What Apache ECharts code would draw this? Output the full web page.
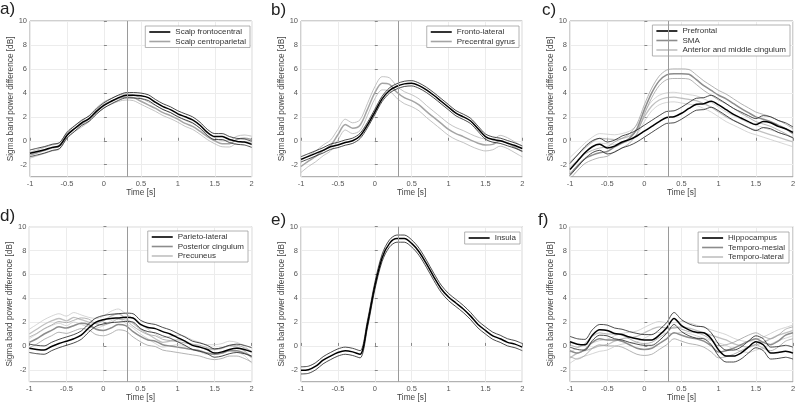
<!DOCTYPE html>
<html><head><meta charset="utf-8">
<script src="https://cdn.jsdelivr.net/npm/echarts@6/dist/echarts.min.js"></script>
<style>html,body{margin:0;padding:0;background:#fff}#chart{width:796px;height:404px}</style>
</head><body><div id="chart"></div>
<script>
// ---------- data ----------
const time = [-1.0,-0.9,-0.8,-0.7,-0.6,-0.5,-0.4,-0.3,-0.2,-0.1,0.0,0.1,0.2,0.3,0.4,0.5,0.6,0.7,0.8,0.9,1.0,1.1,1.2,1.3,1.4,1.5,1.6,1.7,1.8,1.9,2.0];
const xTicks = [-1,-0.5,0,0.5,1,1.5,2];
const yTicks = [-2,0,2,4,6,8,10];
const markerTime = 0.32;
const panelLabels = ['a)','b)','c)','d)','e)','f)'];
const yTitle = 'Sigma band power difference [dB]';
const xTitle = 'Time [s]';

// a)
const aNames = ['Scalp frontocentral','Scalp centroparietal'];
const aFrontoMean = [-1.05,-0.9,-0.75,-0.55,-0.4,0.45,1.0,1.5,1.85,2.45,2.95,3.3,3.6,3.8,3.8,3.75,3.6,3.2,2.85,2.6,2.25,2.0,1.75,1.3,0.7,0.35,0.35,0.1,-0.05,-0.1,-0.3];
const aFrontoSem  = [0.28,0.28,0.27,0.26,0.25,0.24,0.23,0.22,0.22,0.22,0.22,0.22,0.22,0.22,0.23,0.23,0.24,0.24,0.24,0.24,0.25,0.25,0.25,0.25,0.25,0.25,0.25,0.25,0.25,0.25,0.25];
const aCentroMean = [-1.2,-1.0,-0.8,-0.6,-0.45,0.5,1.0,1.4,1.85,2.5,3.0,3.3,3.55,3.65,3.6,3.3,3.0,2.7,2.35,2.1,1.8,1.45,1.2,0.8,0.35,0.0,-0.25,-0.25,0.1,0.2,0.1];
const aCentroSem  = [0.25,0.25,0.25,0.25,0.25,0.25,0.25,0.25,0.25,0.25,0.25,0.25,0.25,0.25,0.25,0.25,0.25,0.25,0.25,0.25,0.25,0.25,0.25,0.25,0.25,0.25,0.25,0.27,0.28,0.28,0.28];

// b)
const bNames = ['Fronto-lateral','Precentral gyrus'];
const bFrontoMean = [-1.55,-1.3,-1.05,-0.8,-0.5,-0.35,-0.15,0.0,0.4,1.3,2.4,3.5,4.2,4.55,4.75,4.8,4.6,4.25,3.8,3.3,2.8,2.3,2.0,1.65,1.0,0.35,0.1,0.0,-0.2,-0.4,-0.65];
const bFrontoSem  = [0.22,0.22,0.22,0.22,0.22,0.22,0.22,0.22,0.22,0.22,0.22,0.22,0.22,0.22,0.22,0.22,0.22,0.22,0.22,0.22,0.22,0.22,0.22,0.22,0.22,0.22,0.22,0.22,0.22,0.22,0.22];
const bPrecMean   = [-2.15,-1.7,-1.3,-0.8,-0.4,0.5,1.35,1.05,1.3,2.6,4.0,4.8,4.7,4.05,3.6,3.35,3.0,2.45,1.95,1.45,0.95,0.6,0.35,0.05,-0.2,-0.35,-0.3,0.0,-0.2,-0.55,-0.9];
const bPrecSem    = [0.5,0.45,0.45,0.45,0.45,0.45,0.45,0.45,0.45,0.5,0.5,0.55,0.55,0.5,0.5,0.5,0.5,0.5,0.5,0.5,0.5,0.5,0.5,0.5,0.5,0.5,0.45,0.45,0.45,0.45,0.45];

// c)
const cNames = ['Prefrontal','SMA','Anterior and middle cingulum'];
const cPrefMean = [-2.4,-1.7,-1.0,-0.5,-0.3,-0.6,-0.45,-0.1,0.1,0.4,0.8,1.2,1.6,1.95,2.0,2.3,2.7,3.05,3.1,3.3,3.0,2.6,2.2,1.9,1.6,1.35,1.6,1.5,1.2,1.0,0.7];
const cPrefSem  = [0.5,0.5,0.5,0.5,0.5,0.5,0.5,0.5,0.5,0.5,0.5,0.5,0.5,0.5,0.5,0.5,0.5,0.5,0.5,0.5,0.5,0.5,0.5,0.5,0.5,0.5,0.5,0.5,0.5,0.5,0.45];
const cSmaMean  = [-2.8,-2.1,-1.5,-1.2,-1.0,-0.9,-0.5,-0.2,0.2,1.0,2.6,4.0,5.0,5.5,5.6,5.6,5.55,5.1,4.6,4.2,3.8,3.5,3.1,2.7,2.35,2.0,1.8,1.6,1.3,1.0,0.6];
const cSmaSem   = [0.4,0.4,0.4,0.4,0.4,0.4,0.4,0.4,0.4,0.4,0.4,0.4,0.4,0.4,0.4,0.4,0.4,0.4,0.4,0.4,0.4,0.4,0.4,0.4,0.4,0.4,0.4,0.4,0.4,0.4,0.4];
const cCingMean = [-1.8,-1.2,-0.6,-0.1,0.2,0.15,0.1,0.2,0.4,0.9,2.0,2.9,3.4,3.6,3.65,3.55,3.45,3.35,3.1,2.8,2.4,2.0,1.7,1.4,1.1,0.9,0.7,0.5,0.3,0.1,-0.1];
const cCingSem  = [0.4,0.4,0.4,0.4,0.4,0.4,0.4,0.4,0.4,0.4,0.4,0.4,0.4,0.4,0.4,0.4,0.4,0.4,0.4,0.4,0.4,0.4,0.4,0.4,0.4,0.4,0.4,0.4,0.4,0.4,0.4];

// d)
const dNames = ['Parieto-lateral','Posterior cingulum','Precuneus'];
const dParMean  = [-0.2,-0.3,-0.35,-0.05,0.2,0.4,0.6,0.9,1.5,2.0,2.2,2.3,2.35,2.4,2.35,1.8,1.55,1.45,1.2,1.0,0.7,0.4,0.05,-0.1,-0.3,-0.6,-0.5,-0.3,-0.2,-0.3,-0.5];
const dParSem   = [0.35,0.35,0.35,0.35,0.35,0.35,0.35,0.35,0.35,0.35,0.35,0.35,0.35,0.35,0.35,0.35,0.35,0.35,0.35,0.35,0.35,0.35,0.35,0.35,0.35,0.35,0.35,0.35,0.35,0.35,0.35];
const dPostMean = [0.3,0.6,1.0,1.3,1.6,1.5,1.7,1.9,1.8,1.4,1.3,1.5,1.8,1.7,1.2,0.8,0.5,0.4,0.1,0.0,-0.1,-0.2,-0.3,-0.4,-0.6,-0.7,-0.6,-0.4,-0.4,-0.6,-0.9];
const dPostSem  = [0.45,0.45,0.45,0.45,0.45,0.45,0.45,0.45,0.45,0.45,0.45,0.45,0.45,0.45,0.45,0.45,0.45,0.45,0.45,0.45,0.45,0.45,0.45,0.45,0.45,0.45,0.45,0.45,0.45,0.45,0.45];
const dPrecMean = [1.0,1.4,1.8,2.1,2.3,2.1,2.4,2.2,2.0,1.9,2.1,2.5,2.7,2.3,1.9,1.4,1.0,0.6,0.3,0.4,0.5,0.4,0.1,-0.1,-0.3,-0.3,-0.2,0.0,-0.1,-0.4,-1.0];
const dPrecSem  = [0.4,0.4,0.4,0.4,0.4,0.4,0.4,0.4,0.4,0.4,0.4,0.4,0.4,0.4,0.4,0.4,0.4,0.4,0.4,0.4,0.4,0.4,0.4,0.4,0.4,0.4,0.4,0.4,0.4,0.4,0.45];

// e)
const eNames = ['Insula'];
const eInsMean = [-2.05,-2.0,-1.7,-1.2,-0.85,-0.55,-0.4,-0.5,-0.7,1.8,5.0,7.4,8.6,9.0,9.0,8.6,7.9,6.9,5.8,4.8,4.1,3.6,3.1,2.5,1.8,1.3,0.85,0.6,0.3,0.15,-0.1];
const eInsSem  = [0.3,0.3,0.3,0.3,0.3,0.3,0.3,0.3,0.3,0.3,0.3,0.3,0.3,0.3,0.3,0.3,0.3,0.3,0.3,0.3,0.3,0.3,0.3,0.3,0.3,0.3,0.3,0.3,0.3,0.3,0.3];

// f)
const fNames = ['Hippocampus','Temporo-mesial','Temporo-lateral'];
const fHipMean = [0.35,0.15,0.1,0.9,1.35,1.3,1.05,0.95,0.75,0.6,0.5,0.5,0.9,1.5,2.3,1.7,1.35,1.15,1.1,0.6,-0.35,-0.85,-0.85,-0.6,-0.1,0.35,0.1,-0.6,-0.55,-0.45,-0.6];
const fHipSem  = [0.45,0.45,0.45,0.45,0.45,0.45,0.45,0.45,0.45,0.45,0.45,0.45,0.45,0.45,0.5,0.5,0.5,0.5,0.5,0.5,0.5,0.5,0.5,0.5,0.5,0.5,0.5,0.5,0.5,0.5,0.5];
const fMesMean = [-0.4,-0.6,-0.3,0.3,0.6,0.5,0.5,0.4,0.1,-0.2,-0.3,-0.2,0.2,0.6,1.1,0.9,0.7,0.6,0.4,0.0,-0.5,-0.4,-0.2,0.1,0.4,0.6,0.3,0.1,0.4,0.9,1.1];
const fMesSem  = [0.5,0.5,0.5,0.5,0.5,0.5,0.5,0.5,0.5,0.5,0.5,0.5,0.5,0.5,0.5,0.5,0.5,0.5,0.5,0.5,0.5,0.5,0.5,0.5,0.5,0.5,0.5,0.5,0.5,0.5,0.5];
const fLatMean = [-1.0,-0.6,-0.4,-0.2,0.0,0.1,0.4,0.6,0.7,0.8,1.1,1.4,1.6,1.5,1.5,1.6,1.5,1.3,1.1,0.9,0.7,0.5,0.2,0.0,-0.1,0.1,0.3,0.6,0.9,1.1,1.3];
const fLatSem  = [0.45,0.45,0.45,0.45,0.45,0.45,0.45,0.45,0.45,0.45,0.45,0.45,0.45,0.45,0.45,0.45,0.45,0.45,0.45,0.45,0.45,0.45,0.45,0.45,0.45,0.45,0.45,0.45,0.45,0.45,0.45];

// ---------- styling / layout ----------
const FONT = 'Liberation Sans, Arial, Helvetica, sans-serif';
const tones = {
  black:  {mean:'#000000', bound:'#1e1e1e', mw:1.5, bw:0.8},
  second: {mean:'#a4a4a4', bound:'#b4b4b4', mw:1.5, bw:0.8},
  mid:    {mean:'#8c8c8c', bound:'#a0a0a0', mw:1.5, bw:0.8},
  light:  {mean:'#c0c0c0', bound:'#cacaca', mw:1.3, bw:0.8}
};
const panels = [
  {grid:{left:30,top:21,width:221.7,height:155.7}, title:{left:0,top:1}, legend:{right:546,top:26}, nameGap:11.5,
   lines:[{name:aNames[0],mean:aFrontoMean,sem:aFrontoSem,tone:'black'},{name:aNames[1],mean:aCentroMean,sem:aCentroSem,tone:'second'}]},
  {grid:{left:301,top:21,width:221.3,height:155.7}, title:{left:271,top:2}, legend:{right:277,top:26}, nameGap:14,
   lines:[{name:bNames[0],mean:bFrontoMean,sem:bFrontoSem,tone:'black'},{name:bNames[1],mean:bPrecMean,sem:bPrecSem,tone:'second'}]},
  {grid:{left:570,top:21,width:223,height:155.7}, title:{left:542,top:2}, legend:{right:6,top:25}, nameGap:13.5,
   lines:[{name:cNames[0],mean:cPrefMean,sem:cPrefSem,tone:'black'},{name:cNames[1],mean:cSmaMean,sem:cSmaSem,tone:'mid'},{name:cNames[2],mean:cCingMean,sem:cCingSem,tone:'light'}]},
  {grid:{left:29.3,top:226.7,width:222.4,height:155}, title:{left:0,top:208}, legend:{right:548,top:231}, nameGap:13,
   lines:[{name:dNames[0],mean:dParMean,sem:dParSem,tone:'black'},{name:dNames[1],mean:dPostMean,sem:dPostSem,tone:'mid'},{name:dNames[2],mean:dPrecMean,sem:dPrecSem,tone:'light'}]},
  {grid:{left:301,top:226.7,width:221.3,height:155}, title:{left:271,top:212}, legend:{right:276,top:232}, nameGap:14,
   lines:[{name:eNames[0],mean:eInsMean,sem:eInsSem,tone:'black'}]},
  {grid:{left:570,top:226.7,width:223,height:155}, title:{left:538,top:212}, legend:{right:7,top:232}, nameGap:13.5,
   lines:[{name:fNames[0],mean:fHipMean,sem:fHipSem,tone:'black'},{name:fNames[1],mean:fMesMean,sem:fMesSem,tone:'mid'},{name:fNames[2],mean:fLatMean,sem:fLatSem,tone:'light'}]}
];

const option = {
  animation:false,
  backgroundColor:'#ffffff',
  textStyle:{fontFamily:FONT},
  title: panels.map((p,i)=>({text:panelLabels[i], left:p.title.left, top:p.title.top, padding:0,
    textStyle:{fontSize:17, fontWeight:'normal', color:'#222', fontFamily:FONT}})),
  grid: panels.map(p=>Object.assign({show:true, borderColor:'#a0a0a0', borderWidth:1, backgroundColor:'#fff',
    containLabel:false, outerBoundsMode:'none'}, p.grid)),
  legend: panels.map(p=>({
    data:p.lines.map(l=>l.name), orient:'vertical', right:p.legend.right, top:p.legend.top,
    icon:'rect', itemWidth:21, itemHeight:1.6, itemGap:1.5, padding:[2,4,2,4], selectedMode:false,
    backgroundColor:'#fff', borderColor:'#a0a0a0', borderWidth:0.8,
    textStyle:{fontSize:8, color:'#333', fontFamily:FONT, lineHeight:8}
  })),
  xAxis: panels.map((p,i)=>({
    type:'value', gridIndex:i, min:xTicks[0], max:xTicks[xTicks.length-1], interval:0.5,
    name:xTitle, nameLocation:'middle', nameGap:11,
    nameTextStyle:{fontSize:8.3, color:'#444', fontFamily:FONT},
    axisLine:{show:false},
    axisTick:{show:true, inside:true, length:3, lineStyle:{color:'#888'}},
    axisLabel:{fontSize:7.5, color:'#555', margin:3, fontFamily:FONT},
    splitLine:{show:true, lineStyle:{color:'#ececec', width:1}}
  })),
  yAxis: panels.map((p,i)=>({
    type:'value', gridIndex:i, min:-3, max:10,
    name:yTitle, nameLocation:'middle', nameGap:p.nameGap, nameRotate:90,
    nameTextStyle:{fontSize:8.3, color:'#444', fontFamily:FONT},
    axisLine:{show:false},
    axisTick:{show:true, inside:true, length:3, lineStyle:{color:'#888'}, customValues:yTicks},
    axisLabel:{fontSize:7.5, color:'#555', margin:3, fontFamily:FONT, customValues:yTicks},
    splitLine:{show:true, lineStyle:{color:'#ececec', width:1}}
  })),
  series: []
};

panels.forEach((p,i)=>{
  const ordered = p.lines.slice().reverse();
  ordered.forEach((l,k)=>{
    const t = tones[l.tone];
    const base = {type:'line', xAxisIndex:i, yAxisIndex:i, symbol:'none', showSymbol:false, smooth:0.3, silent:true};
    ['up','down'].forEach(dir=>{
      option.series.push(Object.assign({}, base, {
        name:l.name+' '+dir,
        data:time.map((x,j)=>[x, dir==='up' ? l.mean[j]+l.sem[j] : l.mean[j]-l.sem[j]]),
        lineStyle:{color:t.bound, width:t.bw}, itemStyle:{color:t.bound}
      }));
    });
    const s = Object.assign({}, base, {
      name:l.name,
      data:time.map((x,j)=>[x, l.mean[j]]),
      lineStyle:{color:t.mean, width:t.mw}, itemStyle:{color:t.mean}
    });
    if (k===0) {
      s.markLine = {symbol:'none', silent:true, animation:false, label:{show:false},
        lineStyle:{color:'#9a9a9a', width:1, type:'solid'}, data:[{xAxis:markerTime}]};
    }
    option.series.push(s);
  });
});

const chart = echarts.init(document.getElementById('chart'), null, {renderer:'canvas'});
chart.setOption(option);
</script>
</body></html>
